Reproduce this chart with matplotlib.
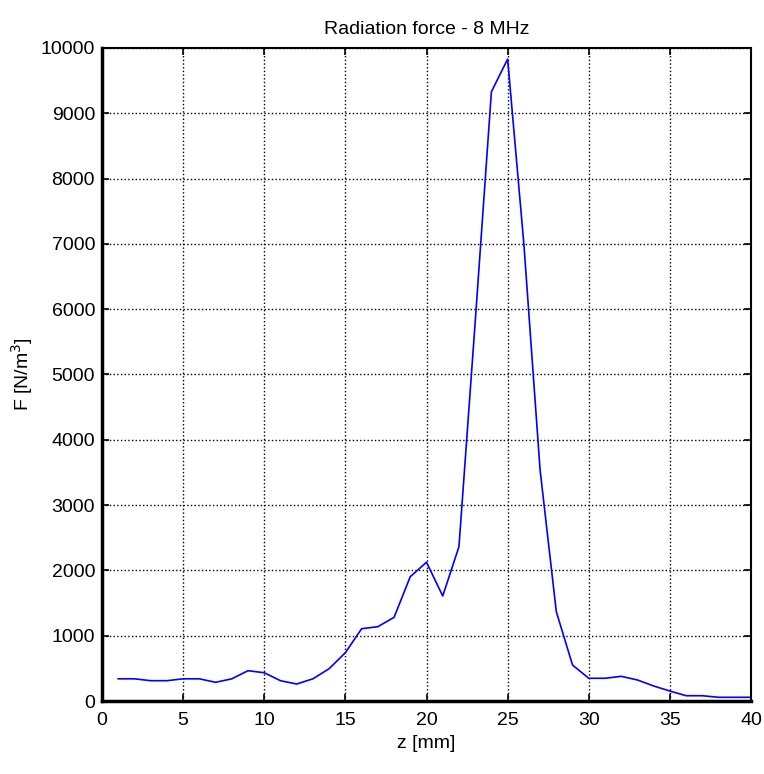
import numpy as np
from matplotlib import pyplot as plt

z = np.arange(1, 41)
force = [340, 340, 311, 311, 340, 340, 286, 340, 464, 433,
         311, 260, 340, 495, 740, 1107, 1138, 1281, 1904, 2125,
         1608, 2363, 5800, 9330, 9830, 7000, 3540, 1368, 551, 348,
         348, 378, 322, 230, 153, 81, 81, 57, 57, 57]

plt.rcParams['font.family'] = ['Liberation Sans', 'DejaVu Sans']

fig = plt.figure(figsize=(7.64, 7.74), dpi=100)
ax = fig.add_axes([0.1335, 0.0943, 0.8495, 0.8437])
ax.plot(z, force, color=(0, 0, 1), linewidth=1.2)

ax.set_xlim(0, 40)
ax.set_ylim(0, 10000)
ax.set_xticks(np.arange(0, 41, 5))
ax.set_yticks(np.arange(0, 10001, 1000))
ax.grid(True, color='black', linestyle=':', linewidth=1.0)
ax.tick_params(direction='in', labelsize=14, length=5, width=1.2, top=True, right=True)
ax.tick_params(axis='x', pad=8)
ax.tick_params(axis='y', pad=5)
for s in ax.spines.values():
    s.set_linewidth(1.5)
ax.spines['bottom'].set_linewidth(2.5)
ax.spines['left'].set_linewidth(2.5)

ax.set_xlabel('z [mm]', fontsize=14, labelpad=4)
ax.set_ylabel('F [N/m$^3$]', fontsize=14, labelpad=4)
ax.set_title('Radiation force - 8 MHz', fontsize=14, pad=10)

fig.savefig('out.png')
